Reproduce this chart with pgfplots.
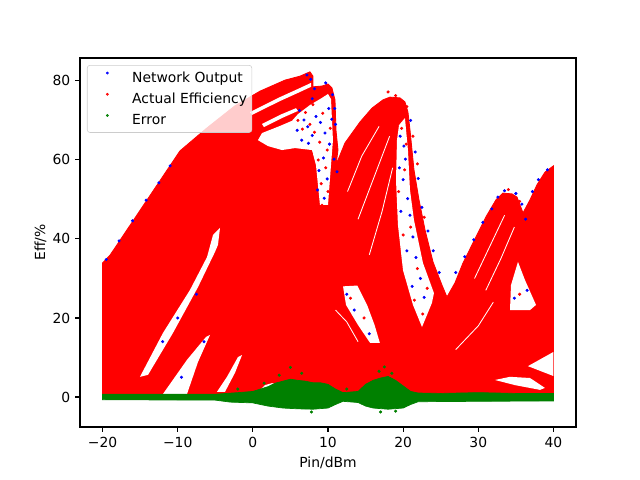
\documentclass[border=0pt]{standalone}
\usepackage{fontspec}
\setmainfont{DejaVu Sans}
\usepackage{pgfplots}
\pgfplotsset{compat=1.18}
\definecolor{mplred}{HTML}{FF0000}
\definecolor{mplblue}{HTML}{0000FF}
\definecolor{mplgreen}{HTML}{008000}
\begin{document}
\begin{tikzpicture}
\begin{axis}[
  scale only axis, width=357.12pt, height=265.68pt,
  xmin=-23, xmax=43, ymin=-7.6, ymax=85.8,
  xtick={-20,-10,0,10,20,30,40}, xticklabels={−20,−10,0,10,20,30,40},
  ytick={0,20,40,60,80}, yticklabels={0,20,40,60,80},
  tick align=outside, major tick length=3.5pt,
  xtick pos=bottom, ytick pos=left,
  every tick/.style={black, line width=0.8pt},
  axis line style={line width=0.8pt},
  ticklabel style={font=\fontsize{10}{12}\selectfont},
  xlabel={Pin/dBm}, ylabel={Eff/\%},
  label style={font=\fontsize{10}{12}\selectfont},
  ylabel style={yshift=-2.5pt},
  legend cell align=left,
  legend style={at={(0.014,0.981)}, anchor=north west, draw=black!20, fill=white,
    fill opacity=0.8, text opacity=1, draw opacity=1, rounded corners=2pt,
    inner xsep=1.5pt, inner ysep=2.5pt, row sep=2.2pt,
    font=\fontsize{10}{12}\selectfont},
]
\addlegendimage{legend image code/.code={\fill[mplblue] (0.45cm,0.12cm) circle (0.8pt); \path (0,0) (1.0cm,0.2cm);}}
\addlegendentry{Network Output}
\addlegendimage{legend image code/.code={\fill[mplred] (0.45cm,0.12cm) circle (0.8pt); \path (0,0) (1.0cm,0.2cm);}}
\addlegendentry{Actual Efficiency}
\addlegendimage{legend image code/.code={\fill[mplgreen] (0.45cm,0.12cm) circle (0.8pt); \path (0,0) (1.0cm,0.2cm);}}
\addlegendentry{Error}

% main red mass (Actual Efficiency, dense scatter drawn as area)
\addplot[forget plot, fill=mplred, draw=mplred, line width=0.6pt] coordinates {
(-20,-0.3) (-20,33.9) (-19.0,35.9) (-14.35,49.1) (-9.69,62.3) (-6.10,68.1) (-2.38,73.7)
(0.95,77.4) (4.28,80.2) (6.27,81.2) (7.60,82.3) (8.00,81.2) (8.00,78.5) (9.20,78.7)
(10.00,79.2) (10.53,78.2) (10.93,75.2) (11.06,67.6) (11.33,62.5) (11.06,58.7) (12.26,64.3)
(14.26,69.6) (15.85,73.1) (17.32,75.2) (18.25,75.9) (19.58,75.7) (20.24,74.7) (20.64,72.1)
(20.91,67.6) (21.44,57.5) (22.11,49.9) (22.91,42.3) (23.97,34.2) (25.17,28.3) (25.83,25.3)
(26.90,28.9) (27.96,33.9) (29.69,40.5) (31.02,45.6) (32.35,49.9) (33.28,51.6) (34.48,51.4)
(35.15,50.6) (35.95,46.6) (36.88,49.9) (37.81,53.7) (38.87,56.9) (40,58.5) (40,-0.3)
} -- cycle;

% white gaps inside the red mass
\addplot[forget plot, fill=white, draw=none] coordinates {
(-0.38,72.1) (3.61,75.9) (6.27,78.2) (7.74,79.5) (7.74,78.5) (6.27,77.2) (3.61,74.9) (-0.11,71.4)
} -- cycle;
\addplot[forget plot, fill=white, draw=none] coordinates {
(1.22,69.1) (3.61,71.4) (5.74,73.1) (6.01,72.4) (3.88,70.6) (1.48,68.3)
} -- cycle;
\addplot[forget plot, fill=white, draw=none] coordinates {
(1.22,66.8) (3.61,68.6) (5.21,69.9) (6.01,71.6) (7.60,73.9) (9.20,75.7) (10.00,76.7)
(10.40,75.4) (10.66,65.0) (10.40,58.7) (10.00,48.6) (8.93,48.6) (8.40,58.7) (7.87,62.5)
(5.61,63.0) (3.88,62.5) (2.02,63.5) (0.68,65.0)
} -- cycle;
\addplot[forget plot, fill=white, draw=none] coordinates {
(19.45,68.8) (20.24,70.6) (20.64,62.5) (20.91,52.4) (21.44,44.8) (22.64,33.9) (24.10,26.3)
(23.83,23.8) (22.51,17.7) (21.31,23.3) (19.98,32.1) (19.31,43.5) (19.05,54.9) (19.18,65.0)
} -- cycle;
\addplot[forget plot, fill=white, draw=none] coordinates {
(12.0,28.0) (13.9,28.2) (15.2,23.3) (16.2,18.2) (16.9,13.7) (15.6,13.7) (14.0,18.2) (12.4,23.3)
} -- cycle;
\addplot[forget plot, fill=white, draw=none] coordinates {
(35.28,34.2) (36.21,29.6) (37.68,23.3) (36.88,22.0) (34.22,22.0) (34.35,28.3)
} -- cycle;
\addplot[forget plot, fill=white, draw=none] coordinates {
(36.61,7.8) (40,11.4) (40,5.3)
} -- cycle;
\addplot[forget plot, fill=white, draw=none] coordinates {
(32.22,4.3) (34.22,5.1) (36.88,4.8) (38.87,2.3) (38.21,1.8) (34.88,3.0)
} -- cycle;
\addplot[forget plot, fill=white, draw=none] coordinates {
(-15.02,5.1) (-11.96,16.2) (-8.36,27.1) (-6.10,35.4) (-5.30,41.0) (-4.37,42.8) (-4.64,38.5)
(-5.04,36.7) (-7.30,27.8) (-10.63,16.2) (-13.95,5.6)
} -- cycle;
\addplot[forget plot, fill=white, draw=none] coordinates {
(-11.96,0.76) (-8.76,0.76) (-7.30,8.86) (-5.70,15.7) (-6.23,15.2) (-8.76,9.4)
} -- cycle;
\addplot[forget plot, fill=white, draw=none] coordinates {
(-4.77,1.3) (-3.71,1.3) (-2.38,6.1) (-1.44,10.6) (-1.98,10.1) (-3.44,5.1)
} -- cycle;
\addplot[forget plot, fill=white, draw=none] coordinates {
(0.68,1.3) (1.62,3.0) (2.55,3.5) (3.61,3.0) (4.28,1.3)
} -- cycle;
% thin gaps between the scatter streaks
\addplot[forget plot, white, line width=0.6pt] coordinates {(12.6,52.0) (14.5,61.0) (16.8,68.5)};
\addplot[forget plot, white, line width=0.6pt] coordinates {(14.0,45.0) (16.0,55.0) (18.2,66.0)};
\addplot[forget plot, white, line width=0.6pt] coordinates {(15.5,36.0) (17.2,47.0) (18.6,58.0)};
\addplot[forget plot, white, line width=0.6pt] coordinates {(29.5,30.0) (31.5,38.0) (33.5,46.0)};
\addplot[forget plot, white, line width=0.6pt] coordinates {(31.0,27.0) (33.0,35.0) (34.8,43.0)};
\addplot[forget plot, white, line width=0.6pt] coordinates {(27.0,12.0) (30.0,18.0) (32.0,24.0)};
\addplot[forget plot, white, line width=0.6pt] coordinates {(11.0,22.0) (12.5,19.0) (14.0,14.0)};

% Network Output points visible outside the red
\addplot[forget plot, only marks, mark=*, mark size=0.9pt, mplblue] coordinates {
(6.2,72.5) (6.8,70.1) (7.3,68.4) (7.9,66.2) (6.5,65.0) (8.4,71.0) (9.0,69.5) (9.6,66.8)
(10.2,64.0) (10.5,70.3) (10.1,73.0) (9.4,60.5) (8.8,57.3) (9.9,55.2) (8.6,52.4) (9.5,50.3)
(7.4,64.2) (5.9,67.5) (10.8,60.2) (11.2,57.0)
(19.6,66.0) (20.3,60.2) (20.0,55.0) (20.6,50.2) (19.7,47.0) (20.9,46.0) (21.3,40.5)
(20.5,37.0) (21.7,35.3) (22.3,30.0) (21.2,28.0) (22.8,25.2) (20.1,63.5) (19.5,58.0)
(21.0,70.0) (21.6,62.0) (22.0,55.3) (22.5,48.0) (23.3,42.0) (24.0,37.0) (24.8,31.5)
(27.0,31.5) (28.2,35.5) (29.4,39.8) (30.6,44.2) (31.8,47.6) (32.6,50.6) (33.5,52.2)
(35.0,51.5) (35.8,48.8) (36.3,45.0) (38.0,55.0) (39.2,57.5) (37.2,52.0)
(-19.5,34.8) (-17.8,39.5) (-16.0,44.6) (-14.2,49.8) (-12.5,54.2) (-11.0,58.5)
(7.2,81.5) (7.7,80.4) (8.2,78.0) (7.9,75.5) (9.7,79.5) (10.6,76.5) (10.9,73.0) (11.0,69.0)
(12.5,26.0) (13.5,22.0) (15.5,16.0) (-12,14) (-10,20) (-7.5,26)
(34.8,25.0) (36.5,27.0) (-9.5,5.0) (-6.5,14.0)
};
% Actual Efficiency points outside the dense area
\addplot[forget plot, only marks, mark=*, mark size=0.9pt, mplred] coordinates {
(6.0,70.0) (7.0,72.0) (7.6,69.0) (8.2,67.0) (8.9,64.5) (9.3,71.8) (10.3,68.0) (9.7,58.0)
(9.1,54.0) (8.7,60.0) (6.6,67.8) (7.8,61.5) (10.0,52.0) (9.2,48.5) (6.4,74.3) (8.0,74.0)
(9.9,62.5)
(19.8,68.0) (20.4,64.0) (20.2,57.5) (19.4,52.0) (21.0,43.0) (20.0,41.0) (21.9,32.5)
(21.5,24.5) (22.6,21.0) (23.2,27.5)
(21.3,66.0) (21.9,59.0) (22.8,45.5) (20.5,73.5) (19.0,76.3) (18.0,77.2)
(34.0,52.5) (35.5,49.5) (13.0,25.0) (14.8,20.0) (35.5,26.0) (-10.5,10.0) (-7.0,20.0)
};

% Error band
\addplot[forget plot, fill=mplgreen, draw=mplgreen, line width=0.5pt] coordinates {
(-20,0.7) (-5,0.7) (-2,1.1) (0,1.4) (1,2.0) (2,2.6) (3,3.5) (4,4.0) (5,4.5) (6,4.2) (7,4.0)
(8,3.6) (9,3.6) (10,3.2) (11,2.0) (12,1.1) (14,1.4) (15,3.2) (16,4.2) (17,4.8) (18,5.2)
(19,4.2) (20,2.8) (21,1.4) (22,1.0) (25,0.9) (30,1.1) (35,0.9) (40,0.9)
(40,-1.0) (30,-1.1) (22,-1.2) (21,-1.9) (20,-2.8) (18,-3.1) (16,-2.8) (15,-2.3) (14,-1.4)
(12,-1.1) (11,-1.9) (10,-2.8) (8,-3.1) (6,-3.0) (4,-2.8) (2,-2.3) (0,-1.5) (-3,-1.3)
(-5,-0.8) (-20,-0.7)
} -- cycle;
\addplot[forget plot, only marks, mark=*, mark size=0.9pt, mplgreen] coordinates {
(5.0,7.5) (6.5,6.0) (3.5,5.5) (17.5,7.6) (16.8,6.5) (18.5,6.0) (7.8,-3.8) (17.0,-3.8)
(19.0,-3.6) (-2.0,2.0) (12.5,2.0) (1.5,3.5)
};
\end{axis}
\pgfresetboundingbox
\path ([xshift=-57.6pt,yshift=-38.16pt]current axis.south west) rectangle ++(460.8pt,345.6pt);
\end{tikzpicture}
\end{document}
